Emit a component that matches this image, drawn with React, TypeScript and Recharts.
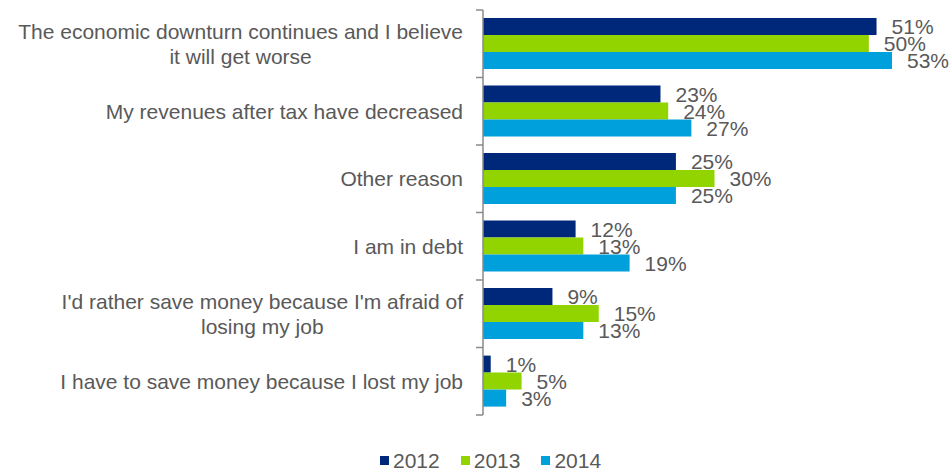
import { BarChart, Bar, XAxis, YAxis, Legend, LabelList } from 'recharts';

const categories = [
  'The economic downturn continues and I believe\nit will get worse',
  'My revenues after tax have decreased',
  'Other reason',
  'I am in debt',
  "I'd rather save money because I'm afraid of\nlosing my job",
  'I have to save money because I lost my job',
];
const years = ['2012', '2013', '2014'];
const values2012 = [51, 23, 25, 12, 9, 1];
const values2013 = [50, 24, 30, 13, 15, 5];
const values2014 = [53, 27, 25, 19, 13, 3];

const colors = ['#00287a', '#92d400', '#00a0dc'];
const TEXT = '#595959';
const AXIS = '#8a8a8a';
const FONT = '"Liberation Sans", Arial, sans-serif';
const FS = 21;

const W = 951;
const H = 473;
const AXIS_X = 483;
const TOP = 10;
const PLOT_BOTTOM = 415;
const BAND = (PLOT_BOTTOM - TOP) / categories.length;

const data = categories.map((name, i) => ({
  name,
  y2012: values2012[i],
  y2013: values2013[i],
  y2014: values2014[i],
}));

let ctx: CanvasRenderingContext2D | null = null;
function measure(s: string) {
  if (!ctx) ctx = document.createElement('canvas').getContext('2d');
  if (!ctx) return s.length * FS * 0.5;
  ctx.font = `${FS}px "Liberation Sans"`;
  return ctx.measureText(s).width;
}

function CategoryTick(props: any) {
  const { y, payload } = props;
  const index = props.index ?? payload.index;
  const lines = String(payload.value).split('\n');
  const blockW = Math.max(...lines.map(measure));
  const cx = AXIS_X - 20 - blockW / 2;
  const half = BAND / 2;
  const last = index === categories.length - 1;
  return (
    <g>
      <line x1={AXIS_X - 7} x2={AXIS_X} y1={y - half} y2={y - half} stroke={AXIS} strokeWidth={1.5} />
      {last && <line x1={AXIS_X - 7} x2={AXIS_X} y1={y + half} y2={y + half} stroke={AXIS} strokeWidth={1.5} />}
      <text textAnchor='middle' fill={TEXT} fontSize={FS} fontFamily={FONT}>
        {lines.map((l, i) => (
          <tspan key={i} x={cx} y={y + (i - (lines.length - 1) / 2) * 25 + 7.5}>
            {l}
          </tspan>
        ))}
      </text>
    </g>
  );
}

function LegendContent() {
  return (
    <div style={{ display: 'flex', paddingLeft: 380, fontFamily: FONT, fontSize: FS, color: TEXT, lineHeight: '25px' }}>
      {years.map((yr, i) => (
        <div key={yr} style={{ display: 'flex', alignItems: 'center', marginRight: 21 }}>
          <span style={{ width: 9, height: 9, background: colors[i], marginRight: 4, display: 'inline-block' }} />
          <span>{yr}</span>
        </div>
      ))}
    </div>
  );
}

export default function App() {
  return (
    <div style={{ position: 'absolute', left: 0, top: 0 }}>
      <BarChart
        width={W}
        height={H}
        data={data}
        layout='vertical'
        margin={{ top: TOP, right: 5, left: 0, bottom: 33 }}
        barCategoryGap='12%'
        barGap={0}
        style={{ fontFamily: FONT }}
      >
        <XAxis type='number' domain={[0, 60]} hide />
        <YAxis
          type='category'
          dataKey='name'
          width={AXIS_X}
          axisLine={{ stroke: AXIS, strokeWidth: 1.5 }}
          tickLine={false}
          tick={<CategoryTick />}
          interval={0}
        />
        <Legend
          verticalAlign='bottom'
          content={<LegendContent />}
          wrapperStyle={{ position: 'absolute', left: 0, top: 448, width: W, height: 25 }}
        />
        {(['y2012', 'y2013', 'y2014'] as const).map((key, i) => (
          <Bar key={key} dataKey={key} name={years[i]} fill={colors[i]} isAnimationActive={false}>
            <LabelList
              dataKey={key}
              position='right'
              offset={15}
              formatter={(v: any) => `${v}%`}
              fill={TEXT}
              fontSize={FS}
              fontFamily={FONT}
            />
          </Bar>
        ))}
      </BarChart>
    </div>
  );
}
